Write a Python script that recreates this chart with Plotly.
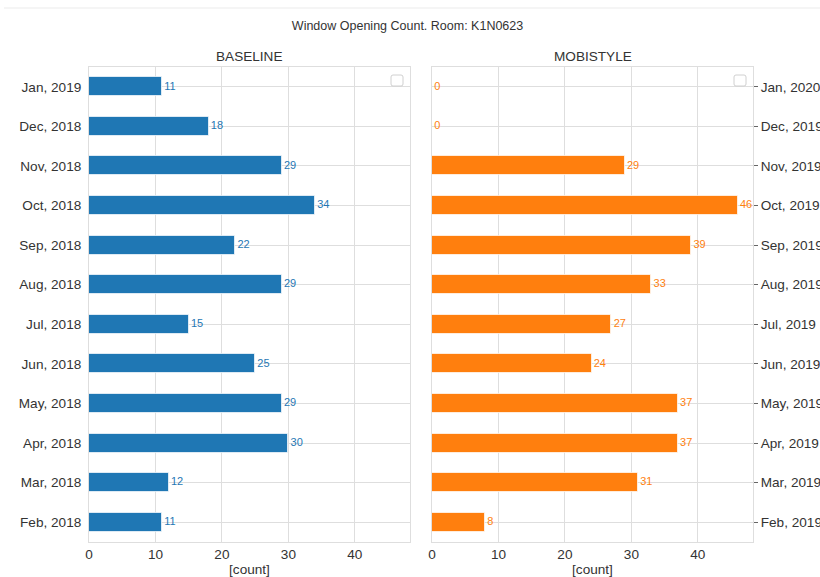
import plotly.graph_objects as go

# ---- data ----
baseline_months = ["Feb, 2018", "Mar, 2018", "Apr, 2018", "May, 2018", "Jun, 2018", "Jul, 2018",
                   "Aug, 2018", "Sep, 2018", "Oct, 2018", "Nov, 2018", "Dec, 2018", "Jan, 2019"]
baseline_counts = [11, 12, 30, 29, 25, 15, 29, 22, 34, 29, 18, 11]

mobistyle_months = ["Feb, 2019", "Mar, 2019", "Apr, 2019", "May, 2019", "Jun, 2019", "Jul, 2019",
                    "Aug, 2019", "Sep, 2019", "Oct, 2019", "Nov, 2019", "Dec, 2019", "Jan, 2020"]
mobistyle_counts = [8, 31, 37, 37, 24, 27, 33, 39, 46, 29, 0, 0]

title_text = "Window Opening Count. Room: K1N0623"
panel_titles = ["BASELINE", "MOBISTYLE"]
x_ticks = [0, 10, 20, 30, 40]
x_label = "[count]"

BLUE = "#1f77b4"
ORANGE = "#ff7f0e"
GRID = "#dedede"
TXT = "#333333"
FONT = "Liberation Sans, Arial, sans-serif"
FS = 13.6

W, H = 820, 577
L1, R1 = 89, 410
L2, R2 = 432, 753
TOP, BOT = 67, 542

xmax = max(max(baseline_counts), max(mobistyle_counts)) * 1.05

fig = go.Figure()

fig.add_trace(go.Bar(
    x=baseline_counts, y=baseline_months, orientation="h", width=0.48,
    marker=dict(color=BLUE, line=dict(color="rgba(255,255,255,0.7)", width=1)),
    xaxis="x", yaxis="y", showlegend=False, hoverinfo="x+y"))
fig.add_trace(go.Scatter(
    x=baseline_counts, y=baseline_months, mode="text", text=["\u2009" + str(v) for v in baseline_counts],
    textposition="middle right", textfont=dict(color=BLUE, size=11, family=FONT),
    xaxis="x", yaxis="y", showlegend=False, hoverinfo="skip", cliponaxis=False))

fig.add_trace(go.Bar(
    x=mobistyle_counts, y=mobistyle_months, orientation="h", width=0.48,
    marker=dict(color=ORANGE, line=dict(color="rgba(255,255,255,0.7)", width=1)),
    xaxis="x2", yaxis="y2", showlegend=False, hoverinfo="x+y"))
fig.add_trace(go.Scatter(
    x=mobistyle_counts, y=mobistyle_months, mode="text", text=["\u2009" + str(v) for v in mobistyle_counts],
    textposition="middle right", textfont=dict(color=ORANGE, size=11, family=FONT),
    xaxis="x2", yaxis="y2", showlegend=False, hoverinfo="skip", cliponaxis=False))

xcommon = dict(range=[0, xmax], tickvals=x_ticks, showgrid=True, gridcolor=GRID, gridwidth=1,
               zeroline=False, showline=True, linecolor=GRID, linewidth=1, mirror=True,
               ticks="", automargin=False, tickfont=dict(size=FS, color=TXT, family=FONT),
               title=dict(text=x_label, font=dict(size=FS, color=TXT, family=FONT), standoff=4))
ycommon = dict(type="category", range=[-0.5, 11.5], showgrid=True, gridcolor=GRID, gridwidth=1,
               zeroline=False, showline=True, linecolor=GRID, linewidth=1, mirror=True,
               automargin=False, tickfont=dict(size=FS, color=TXT, family=FONT))

fig.update_layout(
    width=W, height=H,
    margin=dict(l=0, r=0, t=TOP, b=H - BOT, autoexpand=False),
    paper_bgcolor="white", plot_bgcolor="white",
    font=dict(family=FONT, color=TXT),
    showlegend=False,
    bargap=0,
    title=dict(text=title_text, x=0.497, xanchor="center", y=1 - 26 / H, yanchor="middle",
               font=dict(size=12.5, color=TXT, family=FONT)),
    xaxis=dict(domain=[L1 / W, R1 / W], anchor="y", **xcommon),
    xaxis2=dict(domain=[L2 / W, R2 / W], anchor="y2", **xcommon),
    yaxis=dict(domain=[0, 1], anchor="x", categoryorder="array", categoryarray=baseline_months,
               side="left", ticks="", ticklabelstandoff=4, **ycommon),
    yaxis2=dict(domain=[0, 1], anchor="x2", categoryorder="array", categoryarray=mobistyle_months,
                side="right", ticks="outside", ticklen=4, tickcolor="#666666", tickwidth=1, **ycommon),
)

# panel titles
for t, xr in zip(panel_titles, ["x domain", "x2 domain"]):
    fig.add_annotation(text=t, x=0.5, xref=xr, y=1, yref="paper", yanchor="bottom",
                       showarrow=False, yshift=1,
                       font=dict(size=FS, color=TXT, family=FONT))

# empty legend boxes (top-right of each panel), offsets in pixels from the panel's top-right corner
box = ("M -17 -8 L -9 -8 Q -7 -8 -7 -10 L -7 -17 Q -7 -19 -9 -19 L -17 -19 "
       "Q -19 -19 -19 -17 L -19 -10 Q -19 -8 -17 -8 Z")
for xr, yr in [("x domain", "y domain"), ("x2 domain", "y2 domain")]:
    fig.add_shape(type="path", path=box, xref=xr, yref=yr, xsizemode="pixel", ysizemode="pixel",
                  xanchor=1, yanchor=1,
                  line=dict(color="#d0d0d0", width=1), fillcolor="rgba(255,255,255,0.8)")

# light page border line at top
fig.add_shape(type="line", xref="paper", yref="paper", x0=4 / W, x1=1, y0=(BOT - 8) / (BOT - TOP),
              y1=(BOT - 8) / (BOT - TOP), line=dict(color="#ebebeb", width=1))

fig.write_html("out.html")
